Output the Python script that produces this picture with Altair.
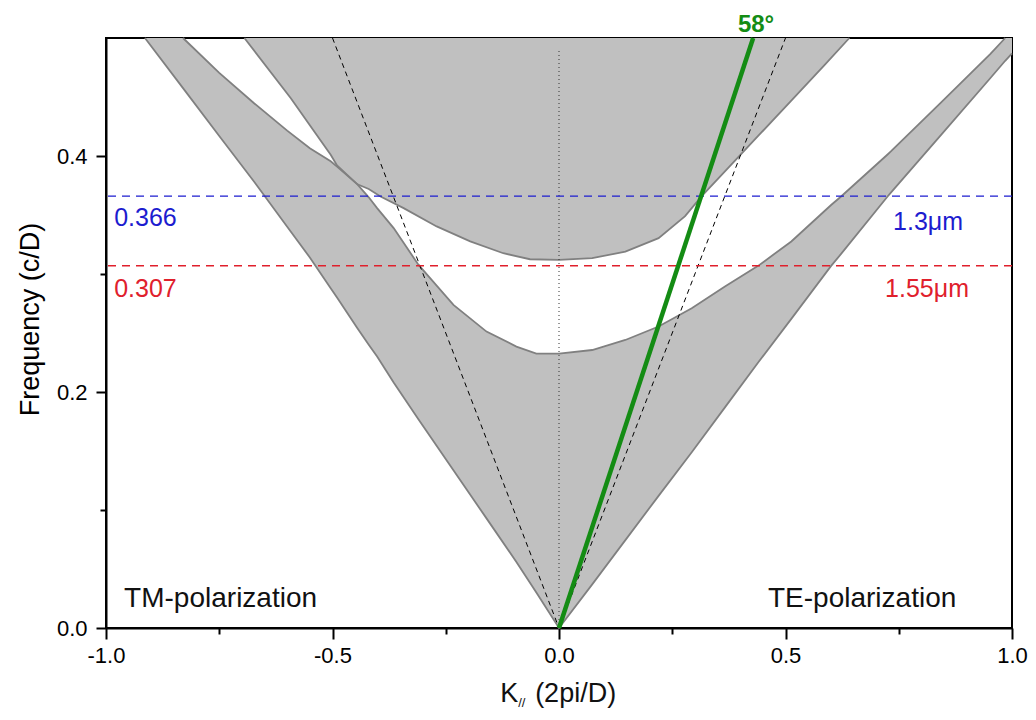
import altair as alt
import pandas as pd

FONT = "Liberation Sans"

# ---- Lowest allowed band (gray region between outer edge L and upper edge T1) ----
band1_k = [-0.914, -0.830, -0.75, -0.6725, -0.6, -0.55, -0.504, -0.49, -0.445, -0.42,
           -0.4015, -0.365, -0.31, -0.233, -0.16, -0.094, -0.05, 0.0, 0.0733, 0.1465,
           0.2198, 0.293, 0.3663, 0.4396, 0.5128, 0.6007, 0.6227, 0.7253, 0.7326,
           0.8425, 0.9524, 0.985, 1.0]
band1_lo = [0.500, 0.4575, 0.417, 0.378, 0.340, 0.314, 0.288, 0.280, 0.254, 0.240,
            0.230, 0.208, 0.1766, 0.1336, 0.0929, 0.056, 0.030, 0.0, 0.037, 0.0745,
            0.112, 0.149, 0.187, 0.225, 0.262, 0.3069, 0.317, 0.3657, 0.369,
            0.4175, 0.4661, 0.4807, 0.487]
band1_hi = [0.500, 0.500, 0.4705, 0.4445, 0.4215, 0.4065, 0.3955, 0.391, 0.376, 0.365,
            0.3558, 0.3389, 0.3077, 0.2738, 0.2512, 0.2385, 0.2325, 0.2325, 0.2356, 0.2441,
            0.2555, 0.271, 0.2894, 0.3069, 0.3276, 0.3585, 0.3657, 0.4013, 0.4039,
            0.4450, 0.4865, 0.500, 0.500]

# ---- Upper band (gray region above lower edge T2, up to the frame) ----
band2_k = [-0.6945, -0.592, -0.55, -0.504, -0.49, -0.445, -0.42, -0.394, -0.343, -0.270,
           -0.196, -0.123, -0.064, 0.0, 0.0733, 0.1465, 0.2198, 0.2784, 0.315, 0.3663,
           0.4396, 0.5128, 0.586, 0.641]
band2_lo = [0.500, 0.449, 0.426, 0.401, 0.392, 0.376, 0.372, 0.3657, 0.3558, 0.3403,
            0.3276, 0.3176, 0.3125, 0.312, 0.3134, 0.319, 0.3304, 0.349, 0.366, 0.387,
            0.417, 0.447, 0.477, 0.500]

# ---- Light lines, 58 degree line, k=0 line, wavelength lines ----
light_k = [-0.5, 0.0, 0.5]
light_f = [0.5, 0.0, 0.5]
green_k = [0.0, 0.4286]
green_f = [0.0, 0.5]
zero_k = [0.0, 0.0]
zero_f = [0.0, 0.49]
wl_f = [0.366, 0.307]
wl_color = ["#1c1ccf", "#e0202c"]

# ---- Annotations ----
left_txt = ["0.366", "0.307", "TM-polarization"]
left_k = [-0.982, -0.982, -0.960]
left_f = [0.341, 0.2805, 0.018]
left_col = ["#1c1ccf", "#e0202c", "#111111"]
left_size = [25, 25, 28]

right_txt = ["1.3\u03bcm", "1.55\u03bcm", "TE-polarization"]
right_k = [0.892, 0.905, 0.877]
right_f = [0.337, 0.2805, 0.018]
right_col = ["#1c1ccf", "#e0202c", "#111111"]
right_size = [25, 25, 28]

angle_txt = ["58\u00b0"]
angle_k = [0.435]
angle_f = [0.505]

xtitle_txt = ["K", "//", "(2pi/D)"]
xtitle_k = [-0.1297, -0.090, -0.0527]
xtitle_f = [-0.0623, -0.0668, -0.0623]
xtitle_size = [27, 13, 27]

b1 = pd.DataFrame({"k": band1_k, "lo": band1_lo, "hi": band1_hi})
b2 = pd.DataFrame({"k": band2_k, "lo": band2_lo})
light = pd.DataFrame({"k": light_k, "f": light_f})
green = pd.DataFrame({"k": green_k, "f": green_f})
zero = pd.DataFrame({"k": zero_k, "f": zero_f})
wl = pd.DataFrame({"f": wl_f, "c": wl_color})
tl = pd.DataFrame({"t": left_txt, "k": left_k, "f": left_f, "c": left_col, "s": left_size})
tr = pd.DataFrame({"t": right_txt, "k": right_k, "f": right_f, "c": right_col, "s": right_size})
ta = pd.DataFrame({"t": angle_txt, "k": angle_k, "f": angle_f})
tx = pd.DataFrame({"t": xtitle_txt, "k": xtitle_k, "f": xtitle_f, "s": xtitle_size})

xs = alt.Scale(domain=[-1, 1], nice=False, zero=False)
ys = alt.Scale(domain=[0, 0.5], nice=False, zero=False)

x_major = "abs(datum.value*2 - round(datum.value*2)) < 0.001"
y_major = "abs(datum.value*5 - round(datum.value*5)) < 0.001"

x_axis = alt.Axis(
    values=[-1, -0.75, -0.5, -0.25, 0, 0.25, 0.5, 0.75, 1],
    labelExpr=x_major + " ? replace(format(datum.value, '.1f'), '\u2212', '-') : ''",
    tickSize={"condition": {"test": x_major, "value": 11}, "value": 6},
    tickWidth=2, tickColor="black", domainColor="black", domainWidth=2,
    labelFont=FONT, labelFontSize=22, labelColor="black", labelPadding=6,
    grid=False, title=None, labelFlush=False, labelOverlap=False,
)
y_axis = alt.Axis(
    values=[0, 0.1, 0.2, 0.3, 0.4],
    labelExpr=y_major + " ? format(datum.value, '.1f') : ''",
    tickSize={"condition": {"test": y_major, "value": 10}, "value": 6},
    tickWidth=2, tickColor="black", domainColor="black", domainWidth=2,
    labelFont=FONT, labelFontSize=22, labelColor="black", labelPadding=9,
    grid=False, title="Frequency (c/D)", titleFont=FONT, titleFontSize=27,
    titleFontWeight="normal", titleColor="black", titlePadding=12, titleY=281,
    labelFlush=False, labelOverlap=False,
)

X = lambda f="k": alt.X(f"{f}:Q", scale=xs, axis=x_axis)
Y = lambda f: alt.Y(f"{f}:Q", scale=ys, axis=y_axis)

GRAY = "#c0c0c0"
EDGE = "#808080"

area1 = alt.Chart(b1).mark_area(color=GRAY, opacity=1).encode(x=X(), y=Y("lo"), y2="hi:Q")
area2 = alt.Chart(b2).mark_area(color=GRAY, opacity=1).encode(x=X(), y=Y("lo"), y2=alt.datum(0.5))

edge_lo = alt.Chart(b1).mark_line(color=EDGE, strokeWidth=1.8).encode(x=X(), y=Y("lo"))
edge_hi = alt.Chart(b1.iloc[1:-1]).mark_line(color=EDGE, strokeWidth=1.8).encode(x=X(), y=Y("hi"))
edge_2 = alt.Chart(b2).mark_line(color=EDGE, strokeWidth=1.8).encode(x=X(), y=Y("lo"))

light_line = alt.Chart(light).mark_line(color="black", strokeWidth=1, strokeDash=[5, 4]).encode(
    x=X(), y=Y("f"))
zero_line = alt.Chart(zero).mark_line(color="#333333", strokeWidth=1, strokeDash=[1, 3]).encode(
    x=X(), y=Y("f"))
wl_rules = alt.Chart(wl).mark_rule(strokeWidth=1.3, strokeDash=[8, 6]).encode(
    y=Y("f"), color=alt.Color("c:N", scale=None))
green_line = alt.Chart(green).mark_line(color="#148c14", strokeWidth=4.5).encode(
    x=X(), y=Y("f"))

text_l = alt.Chart(tl).mark_text(align="left", baseline="alphabetic", font=FONT).encode(
    x=X(), y=Y("f"), text="t:N", color=alt.Color("c:N", scale=None),
    size=alt.Size("s:Q", scale=None))
text_r = alt.Chart(tr).mark_text(align="right", baseline="alphabetic", font=FONT).encode(
    x=X(), y=Y("f"), text="t:N", color=alt.Color("c:N", scale=None),
    size=alt.Size("s:Q", scale=None))
text_a = alt.Chart(ta).mark_text(align="center", baseline="alphabetic", font=FONT,
                                 fontSize=24, fontWeight="bold", color="#148c14").encode(
    x=X(), y=Y("f"), text="t:N")
text_x = alt.Chart(tx).mark_text(align="left", baseline="alphabetic", font=FONT,
                                 color="#111111").encode(
    x=X(), y=Y("f"), text="t:N", size=alt.Size("s:Q", scale=None))

chart = alt.layer(
    area1, area2, edge_lo, edge_hi, edge_2, light_line, zero_line, wl_rules,
    green_line, text_l, text_r, text_a, text_x,
).properties(
    width=906, height=590,
    autosize=alt.AutoSizeParams(type="none"),
    padding={"left": 98, "top": 30, "right": 16, "bottom": 84},
    background="white",
).configure_view(stroke="black", strokeWidth=2)

chart.save("out.html", embed_options={"renderer": "svg", "actions": False})
